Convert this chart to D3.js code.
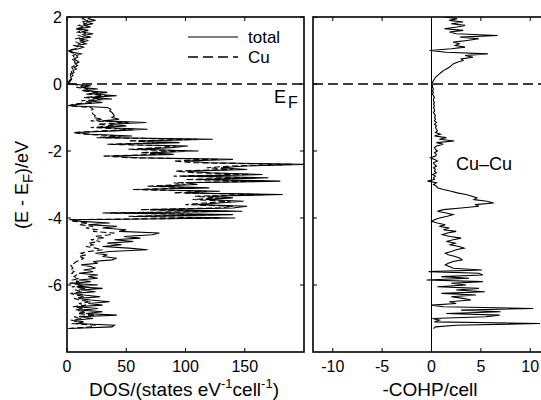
<!DOCTYPE html>
<html>
<head>
<meta charset="utf-8">
<script src="https://cdn.jsdelivr.net/npm/d3@7"></script>
<style>
  body { margin: 0; background: #fff; }
  text { font-family: "Liberation Sans", Arial, sans-serif; fill: #000; }
</style>
</head>
<body>
<script>
// energy grid (eV, relative to E_F), ascending
var eStart = -7.3, eStep = 0.05;

// total DOS (states/eV/cell)
var dosTotal = [
  2, 38, 40, 8, 14, 6, 22, 10, 42, 16,
  30, 12, 26, 8, 30, 18, 36, 20, 10, 28,
  14, 6, 24, 12, 30, 8, 26, 4, 20, 10,
  26, 18, 26, 10, 22, 14, 24, 20, 12, 26,
  22, 38, 42, 30, 34, 24, 36, 68, 52, 30,
  46, 34, 56, 40, 62, 48, 72, 78, 44, 50,
  30, 42, 18, 36, 12, 4, 142, 60, 140, 36,
  148, 70, 140, 152, 110, 128, 149, 117, 140, 120,
  182, 100, 129, 62, 120, 75, 110, 100, 180, 110,
  170, 100, 165, 120, 102, 152, 130, 150, 202, 120,
  100, 140, 60, 37, 90, 70, 111, 60, 88, 102,
  40, 95, 60, 123, 30, 55, 20, 8, 40, 68,
  28, 50, 36, 67, 30, 44, 38, 40, 39, 38,
  36, 37, 34, 2, 10, 30, 18, 38, 20, 42,
  22, 34, 16, 26, 12, 20, 3, 2, 3, 4,
  3, 5, 4, 6, 5, 8, 6, 9, 7, 10,
  8, 6, 9, 8, 12, 5, 2, 10, 14, 8,
  16, 12, 18, 10, 20, 14, 22, 12, 18, 10,
  20, 14, 22, 16, 24, 18, 20
];

// Cu partial DOS
var dosCu = [
  1, 20, 24, 5, 8, 4, 12, 6, 24, 9,
  16, 7, 14, 5, 16, 10, 20, 11, 6, 15,
  8, 3, 13, 7, 16, 4, 14, 2, 10, 5,
  10, 6, 8, 4, 6, 3, 5, 4, 3, 6,
  8, 12, 14, 10, 16, 12, 18, 30, 24, 16,
  22, 18, 28, 20, 32, 24, 36, 40, 22, 26,
  16, 22, 10, 18, 6, 2, 130, 52, 128, 30,
  136, 62, 128, 140, 100, 116, 138, 106, 128, 108,
  170, 90, 118, 55, 108, 68, 100, 90, 168, 100,
  158, 90, 154, 108, 92, 140, 118, 138, 190, 108,
  90, 128, 52, 30, 80, 62, 100, 52, 78, 92,
  34, 84, 52, 110, 25, 46, 15, 5, 30, 56,
  20, 40, 26, 52, 20, 30, 22, 24, 22, 21,
  20, 22, 20, 1, 6, 22, 12, 30, 14, 34,
  16, 26, 12, 20, 8, 14, 2, 1, 2, 3,
  2, 3, 3, 4, 3, 5, 4, 6, 5, 7,
  6, 4, 6, 5, 8, 3, 1, 7, 10, 6,
  11, 8, 13, 7, 14, 10, 16, 9, 13, 7,
  15, 10, 16, 12, 18, 13, 15
];

// -COHP Cu-Cu (per cell)
var cohp = [
  0.2, 0.4, 2.5, 11, 0.3, 0.8, 0.1, 5.5, 6.9, 1.5,
  7.0, 3.0, 10.3, 1.2, 0.0, 2.5, 1.8, 4.0, 3.2, 2.0,
  4.5, 1.0, 5.4, 2.5, 4.8, 0.6, 3.5, 2.0, 5.2, -0.5,
  3.8, 1.0, 5.2, 4.8, -0.3, 5.1, 2.2, 1.8, 1.4, 1.7,
  2.2, 3.1, 2.9, 2.4, 1.7, 1.4, 2.0, 2.5, 3.3, 2.8,
  1.9, 2.4, 1.5, 2.2, 3.0, 1.9, 1.1, 1.6, 2.5, 1.2,
  1.8, 0.8, 1.4, 0.6, 0.0, 0.3, 0.8, 1.6, 2.2, 1.5,
  0.6, 1.2, 3.0, 4.8, 4.4, 6.3, 5.6, 4.3, 4.6, 4.1,
  3.5, 2.6, 2.0, 1.2, 0.6, 0.5, 0.2, 0.5, -0.4, 0.3,
  0.2, 0.4, 0.1, 0.5, 0.3, 0.4, 0.2, 0.5, 0.3, 0.2,
  0.6, 0.3, -0.1, 0.4, 0.5, 0.3, 0.6, 0.4, 0.3, 0.5,
  1.2, 0.5, 2.3, 0.8, 1.5, 0.3, 0.9, 0.4, 0.6, 0.5,
  0.4, 0.5, 0.3, 0.5, 0.3, 0.4, 0.3, 0.4, 0.3, 0.2,
  0.3, 0.3, 0.2, 0.3, 0.2, 0.3, 0.2, 0.2, 0.3, 0.2,
  0.1, 0.2, 0.1, 0.2, 0.1, 0.1, 0.05, 0.1, 0.2, 0.3,
  0.4, 0.6, 0.8, 1.0, 1.2, 1.5, 1.8, 2.0, 2.2, 2.6,
  3.2, 3.0, 4.2, 3.4, 5.7, 1.5, -0.2, 2.0, 3.4, 2.4,
  2.8, 2.2, 3.6, 4.8, 2.9, 6.7, 2.5, 1.8, 3.2, 1.3,
  2.6, 3.4, 2.0, 3.2, 1.8, 2.6, 1.3
];

var yTicks = [2, 0, -2, -4, -6];
var dosTicks = [0, 50, 100, 150];
var cohpTicks = [-10, -5, 0, 5, 10];

var W = 541, H = 400;
var plotTop = 17, plotBottom = 352;

var svg = d3.select("body").append("svg")
    .attr("width", W).attr("height", H);
svg.append("rect").attr("width", W).attr("height", H).attr("fill", "#fff");

var y = d3.scaleLinear().domain([-8, 2]).range([plotBottom, plotTop]);
var xDos = d3.scaleLinear().domain([0, 200]).range([67, 304]);
var xCohp = d3.scaleLinear().domain([-12, 12]).range([313, 550]);

var energy = function(i){ return eStart + i * eStep; };

var defs = svg.append("defs");
defs.append("clipPath").attr("id", "clipL").append("rect")
    .attr("x", 67).attr("y", plotTop).attr("width", 304 - 67).attr("height", plotBottom - plotTop);
defs.append("clipPath").attr("id", "clipR").append("rect")
    .attr("x", 313).attr("y", plotTop).attr("width", 550 - 313).attr("height", plotBottom - plotTop);

var line = function(xs){
  return d3.line()
    .x(function(d){ return xs(d); })
    .y(function(d, i){ return y(energy(i)); });
};

// ---- left panel: DOS
var gL = svg.append("g");
gL.append("path").datum(dosCu)
    .attr("clip-path", "url(#clipL)")
    .attr("d", line(xDos))
    .attr("fill", "none").attr("stroke", "#000")
    .attr("stroke-width", 1.1).attr("stroke-dasharray", "6,3");
gL.append("path").datum(dosTotal)
    .attr("clip-path", "url(#clipL)")
    .attr("d", line(xDos))
    .attr("fill", "none").attr("stroke", "#000").attr("stroke-width", 1.1);

// ---- right panel: COHP
var gR = svg.append("g");
gR.append("line")
    .attr("x1", xCohp(0)).attr("x2", xCohp(0))
    .attr("y1", plotTop).attr("y2", plotBottom)
    .attr("stroke", "#000").attr("stroke-width", 1);
gR.append("path").datum(cohp)
    .attr("clip-path", "url(#clipR)")
    .attr("d", line(xCohp))
    .attr("fill", "none").attr("stroke", "#000").attr("stroke-width", 1.1);

// Fermi level
[[67, 304], [313, 550]].forEach(function(r){
  svg.append("line")
      .attr("x1", r[0]).attr("x2", r[1])
      .attr("y1", y(0)).attr("y2", y(0))
      .attr("stroke", "#000").attr("stroke-width", 1.3)
      .attr("stroke-dasharray", "10,5");
});

// frames and inward ticks
var frame = function(xs, ticksX, showY){
  var x0 = xs.range()[0], x1 = xs.range()[1];
  var g = svg.append("g");
  g.append("rect").attr("x", x0).attr("y", plotTop)
      .attr("width", x1 - x0).attr("height", plotBottom - plotTop)
      .attr("fill", "none").attr("stroke", "#000").attr("stroke-width", 1.6);
  ticksX.forEach(function(t){
    g.append("line").attr("x1", xs(t)).attr("x2", xs(t))
        .attr("y1", plotBottom).attr("y2", plotBottom - 4).attr("stroke", "#000");
    g.append("line").attr("x1", xs(t)).attr("x2", xs(t))
        .attr("y1", plotTop).attr("y2", plotTop + 4).attr("stroke", "#000");
    g.append("text").attr("x", xs(t)).attr("y", 372)
        .attr("text-anchor", "middle").attr("font-size", 16)
        .text(t);
  });
  yTicks.forEach(function(t){
    g.append("line").attr("x1", x0).attr("x2", x0 + 4)
        .attr("y1", y(t)).attr("y2", y(t)).attr("stroke", "#000");
    g.append("line").attr("x1", x1).attr("x2", x1 - 4)
        .attr("y1", y(t)).attr("y2", y(t)).attr("stroke", "#000");
    if (showY) {
      g.append("text").attr("x", x0 - 5).attr("y", y(t) + 6)
          .attr("text-anchor", "end").attr("font-size", 16)
          .text(t);
    }
  });
};
frame(xDos, dosTicks, true);
frame(xCohp, cohpTicks, false);

// legend
svg.append("line").attr("x1", 188).attr("x2", 238).attr("y1", 37).attr("y2", 37)
    .attr("stroke", "#000").attr("stroke-width", 1.1);
svg.append("text").attr("x", 248).attr("y", 43).attr("font-size", 17).text("total");
svg.append("line").attr("x1", 188).attr("x2", 238).attr("y1", 57).attr("y2", 57)
    .attr("stroke", "#000").attr("stroke-width", 1.3).attr("stroke-dasharray", "10,5");
svg.append("text").attr("x", 248).attr("y", 63).attr("font-size", 17).text("Cu");

// E_F label
var ef = svg.append("text").attr("x", 274).attr("y", 103).attr("font-size", 18);
ef.append("tspan").text("E");
ef.append("tspan").attr("dx", 2).attr("dy", 5).attr("font-size", 16).text("F");

svg.append("text").attr("x", 456).attr("y", 170).attr("font-size", 18).text("Cu\u2013Cu");

// axis titles
var xt = svg.append("text").attr("x", 184).attr("y", 396)
    .attr("text-anchor", "middle").attr("font-size", 19);
xt.append("tspan").text("DOS/(states eV");
xt.append("tspan").attr("dy", -8).attr("font-size", 13).text("-1");
xt.append("tspan").attr("dy", 8).text("cell");
xt.append("tspan").attr("dy", -8).attr("font-size", 13).text("-1");
xt.append("tspan").attr("dy", 8).text(")");

svg.append("text").attr("x", 430).attr("y", 396)
    .attr("text-anchor", "middle").attr("font-size", 19).text("-COHP/cell");

var yt = svg.append("text")
    .attr("transform", "translate(28,185) rotate(-90)")
    .attr("text-anchor", "middle").attr("font-size", 18);
yt.append("tspan").text("(E - E");
yt.append("tspan").attr("dy", 5).attr("font-size", 15).text("F");
yt.append("tspan").attr("dy", -5).text(")/eV");
</script>
</body>
</html>
